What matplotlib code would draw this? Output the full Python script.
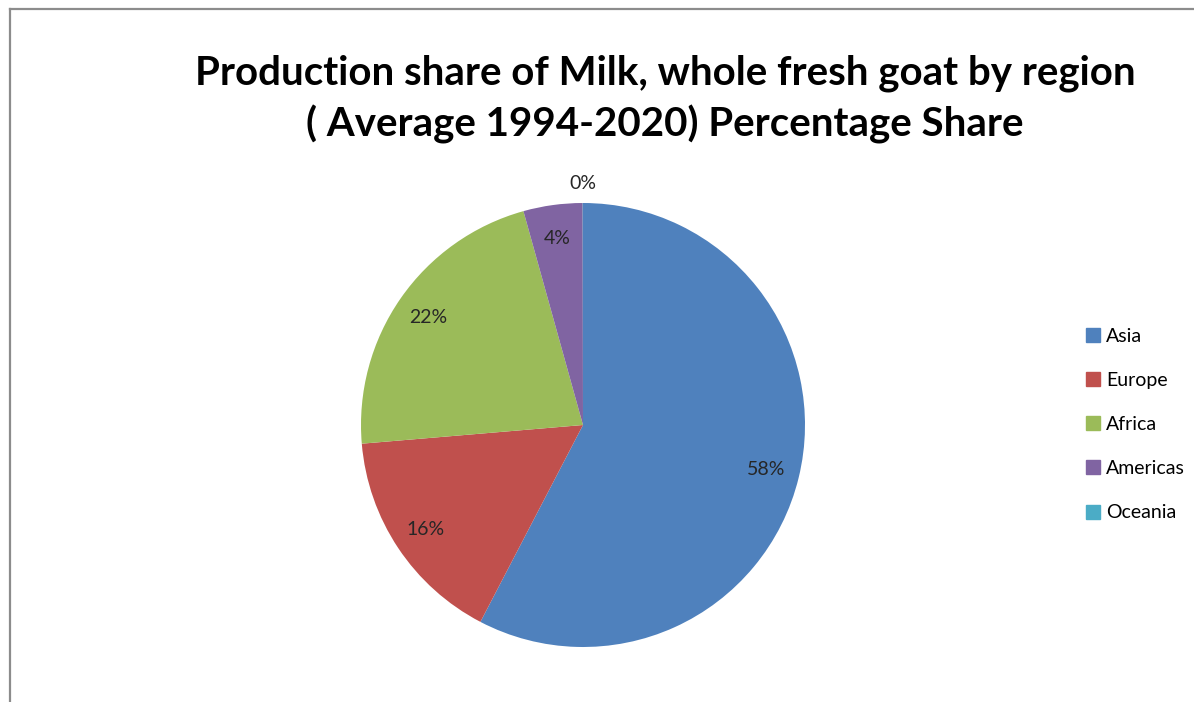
import matplotlib.pyplot as plt
from matplotlib.lines import Line2D

# data
regions = ["Asia", "Europe", "Africa", "Americas", "Oceania"]
shares = [57.6, 16.0, 22.0, 4.3, 0.02]
colors = ["#4F81BD", "#C0504D", "#9BBB59", "#8064A2", "#4BACC6"]

plt.rcParams["font.family"] = ["Lato", "DejaVu Sans"]

W, H = 1194, 702
fig = plt.figure(figsize=(W / 100, H / 100), dpi=100)

# pie axes: centre ~ (583, 425) px, radius ~ 222 px
cx, cy, r = 583, 425, 222
ax = fig.add_axes([(cx - r) / W, (H - cy - r) / H, 2 * r / W, 2 * r / H])
wedges, texts, autotexts = ax.pie(
    shares, colors=colors, startangle=90, counterclock=False,
    autopct="%.0f%%", pctdistance=0.85, radius=1,
    wedgeprops=dict(linewidth=0),
    textprops=dict(fontsize=14, color="#262626"))
# tiny Oceania slice label sits outside
autotexts[-1].set_position((0, 1.09))
ax.set_xlim(-1, 1)
ax.set_ylim(-1, 1)
ax.set_aspect("equal")
ax.axis("off")
for t in autotexts:
    t.set_clip_on(False)

# title
fig.text(665 / W, 1 - 99 / H,
         "Production share of Milk, whole fresh goat by region\n( Average 1994-2020) Percentage Share",
         ha="center", va="center", fontsize=29, fontweight="bold", linespacing=1.42)

# legend
handles = [Line2D([], [], marker="s", linestyle="none", markersize=10,
                  markerfacecolor=c, markeredgecolor=c) for c in colors]
fig.legend(handles, regions, loc="upper left", bbox_to_anchor=(1066 / W, 1 - 310 / H),
           frameon=False, fontsize=14, labelspacing=1.4, handletextpad=0.15,
           handlelength=1.0)

# chart frame (left and top edges visible)
fig.add_artist(Line2D([9.5 / W, 9.5 / W], [0, 1 - 9 / H], color="#8c8c8c", lw=1.6,
                      transform=fig.transFigure))
fig.add_artist(Line2D([9.5 / W, 1], [1 - 9 / H, 1 - 9 / H], color="#8c8c8c", lw=1.6,
                      transform=fig.transFigure))

fig.savefig("out.png", dpi=100, facecolor="white")
